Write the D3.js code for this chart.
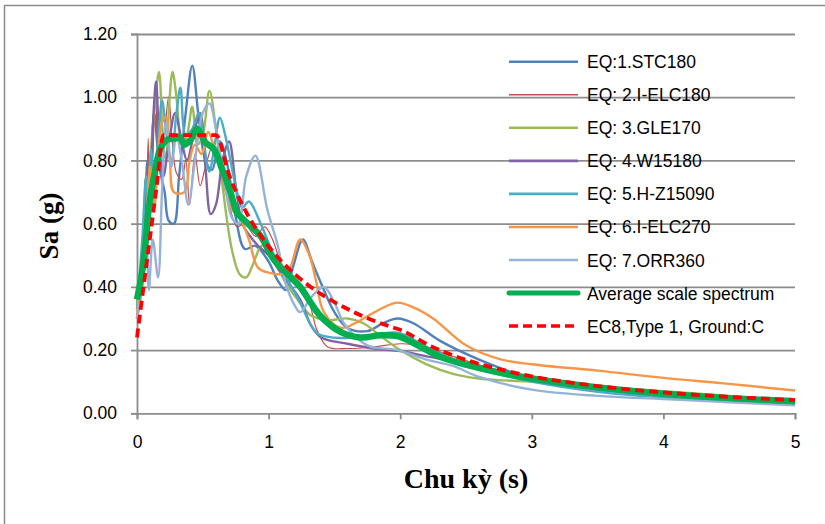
<!doctype html>
<html>
  <head>
    <meta charset="utf-8">
    <title>Phổ phản ứng gia tốc</title>
    <script src="https://cdn.jsdelivr.net/npm/d3@7"></script>
    <style>
      body { margin: 0; background: #fff; }
      text { font-family: 'Liberation Sans', Arial, sans-serif; }
    </style>
  </head>
  <body>
    <svg id="chart" width="825" height="524"></svg>

    <script>
      var xTicks = [0, 1, 2, 3, 4, 5]
      var yTicks = [0, 0.2, 0.4, 0.6, 0.8, 1.0, 1.2]

      var seriesNames = [
        'EQ:1.STC180',
        'EQ: 2.I-ELC180',
        'EQ: 3.GLE170',
        'EQ: 4.W15180',
        'EQ: 5.H-Z15090',
        'EQ: 6.I-ELC270',
        'EQ: 7.ORR360',
        'Average scale spectrum',
        'EC8,Type 1, Ground:C'
      ]

      // [period (s), Sa (g)]
      var eq1 = [[0,0.30],[0.03,0.40],[0.06,0.62],[0.08,0.80],[0.10,0.70],[0.13,0.95],[0.17,0.78],[0.21,0.70],[0.24,0.61],[0.28,0.60],[0.32,0.75],[0.37,0.95],[0.42,1.10],[0.47,0.93],[0.52,0.80],[0.57,0.77],[0.63,0.86],[0.69,0.78],[0.75,0.62],[0.82,0.52],[0.90,0.53],[1.0,0.48],[1.07,0.42],[1.13,0.39],[1.19,0.47],[1.26,0.55],[1.33,0.48],[1.40,0.41],[1.50,0.32],[1.60,0.27],[1.75,0.26],[1.87,0.285],[1.98,0.30],[2.1,0.285],[2.3,0.23],[2.6,0.17],[3.0,0.11],[3.5,0.075],[4.0,0.055],[4.5,0.04],[5.0,0.03]]
      var eq2 = [[0,0.30],[0.04,0.45],[0.06,0.74],[0.07,0.62],[0.085,0.87],[0.10,0.62],[0.12,0.80],[0.14,1.00],[0.17,0.80],[0.20,0.85],[0.24,1.0],[0.27,0.85],[0.30,0.76],[0.34,0.74],[0.37,0.80],[0.40,0.66],[0.44,0.82],[0.48,0.72],[0.52,0.78],[0.58,0.85],[0.64,0.75],[0.70,0.66],[0.76,0.59],[0.82,0.60],[0.90,0.56],[0.97,0.59],[1.03,0.55],[1.10,0.47],[1.20,0.42],[1.30,0.36],[1.37,0.26],[1.45,0.21],[1.6,0.205],[1.8,0.21],[2.0,0.22],[2.15,0.215],[2.4,0.18],[2.7,0.14],[3.0,0.105],[3.5,0.075],[4.0,0.058],[4.5,0.045],[5.0,0.035]]
      var eq3 = [[0,0.35],[0.04,0.45],[0.07,0.60],[0.10,0.80],[0.13,0.95],[0.167,1.08],[0.20,0.85],[0.22,0.80],[0.245,0.98],[0.27,1.08],[0.30,1.00],[0.34,0.85],[0.38,0.88],[0.42,0.97],[0.46,0.85],[0.50,0.88],[0.55,1.02],[0.60,0.90],[0.65,0.72],[0.72,0.52],[0.78,0.44],[0.83,0.43],[0.88,0.47],[0.95,0.53],[1.03,0.50],[1.12,0.42],[1.22,0.36],[1.32,0.31],[1.45,0.295],[1.6,0.30],[1.72,0.285],[1.85,0.245],[2.0,0.20],[2.2,0.155],[2.4,0.125],[2.6,0.11],[2.8,0.104],[3.0,0.10],[3.5,0.085],[4.0,0.07],[4.5,0.055],[5.0,0.04]]
      var eq4 = [[0,0.30],[0.03,0.40],[0.05,0.47],[0.07,0.53],[0.09,0.62],[0.11,0.80],[0.13,0.98],[0.145,1.05],[0.17,0.85],[0.20,0.75],[0.24,0.85],[0.29,0.95],[0.34,0.86],[0.38,0.80],[0.43,0.88],[0.48,0.95],[0.52,0.78],[0.56,0.63],[0.60,0.66],[0.65,0.80],[0.70,0.86],[0.75,0.72],[0.80,0.60],[0.86,0.56],[0.92,0.53],[1.0,0.50],[1.1,0.44],[1.24,0.36],[1.32,0.28],[1.40,0.24],[1.6,0.22],[1.8,0.205],[2.0,0.197],[2.2,0.18],[2.4,0.165],[2.6,0.15],[3.0,0.11],[3.5,0.08],[4.0,0.058],[4.5,0.042],[5.0,0.032]]
      var eq5 = [[0,0.33],[0.04,0.55],[0.07,0.75],[0.09,0.62],[0.106,0.835],[0.13,0.70],[0.16,0.85],[0.19,0.99],[0.22,0.90],[0.26,0.80],[0.30,0.95],[0.33,1.03],[0.37,0.88],[0.42,0.90],[0.47,0.95],[0.51,0.85],[0.55,0.765],[0.59,0.85],[0.63,0.935],[0.67,0.88],[0.71,0.80],[0.76,0.70],[0.80,0.65],[0.85,0.67],[0.94,0.60],[1.02,0.52],[1.12,0.44],[1.24,0.35],[1.32,0.28],[1.38,0.25],[1.55,0.238],[1.75,0.245],[1.98,0.255],[2.2,0.21],[2.4,0.17],[2.6,0.14],[3.0,0.10],[3.5,0.068],[4.0,0.05],[4.5,0.038],[5.0,0.028]]
      var eq6 = [[0,0.30],[0.04,0.50],[0.07,0.60],[0.10,0.78],[0.13,0.65],[0.16,0.80],[0.19,0.92],[0.22,0.935],[0.25,0.80],[0.28,0.70],[0.36,0.70],[0.40,0.80],[0.44,0.85],[0.49,0.82],[0.54,0.89],[0.58,0.85],[0.63,0.78],[0.68,0.70],[0.72,0.645],[0.78,0.62],[0.85,0.55],[0.92,0.46],[1.0,0.445],[1.08,0.44],[1.15,0.45],[1.24,0.55],[1.31,0.50],[1.36,0.42],[1.42,0.32],[1.55,0.27],[1.70,0.295],[1.85,0.33],[1.98,0.35],[2.1,0.335],[2.25,0.30],[2.5,0.215],[2.75,0.172],[3.0,0.155],[3.5,0.135],[4.0,0.112],[4.5,0.093],[5.0,0.072]]
      var eq7 = [[0,0.30],[0.04,0.40],[0.07,0.60],[0.09,0.39],[0.12,0.55],[0.16,0.43],[0.19,0.70],[0.22,0.92],[0.26,0.78],[0.30,0.88],[0.34,0.80],[0.39,0.66],[0.44,0.80],[0.50,0.95],[0.55,0.98],[0.60,0.90],[0.66,0.75],[0.72,0.62],[0.77,0.60],[0.83,0.75],[0.90,0.815],[0.99,0.645],[1.07,0.53],[1.13,0.41],[1.20,0.34],[1.24,0.32],[1.33,0.37],[1.42,0.40],[1.50,0.35],[1.58,0.28],[1.75,0.215],[1.98,0.20],[2.2,0.17],[2.4,0.15],[2.6,0.115],[3.0,0.075],[3.5,0.055],[4.0,0.045],[4.5,0.035],[5.0,0.025]]
      var average = [[0,0.36],[0.04,0.45],[0.07,0.56],[0.09,0.65],[0.13,0.75],[0.18,0.84],[0.235,0.867],[0.30,0.87],[0.33,0.873],[0.36,0.85],[0.41,0.867],[0.455,0.90],[0.52,0.857],[0.585,0.835],[0.64,0.78],[0.71,0.70],[0.76,0.635],[0.81,0.613],[0.94,0.56],[1.04,0.486],[1.17,0.43],[1.24,0.40],[1.32,0.35],[1.40,0.305],[1.55,0.257],[1.70,0.24],[1.85,0.247],[1.98,0.244],[2.13,0.216],[2.31,0.178],[2.61,0.142],[3.0,0.11],[3.5,0.082],[4.0,0.062],[4.5,0.048],[5.0,0.038]]
      var ec8 = [[0,0.24],[0.05,0.40],[0.1,0.56],[0.15,0.72],[0.2,0.88],[0.6,0.88],[0.7,0.754],[0.8,0.66],[0.9,0.587],[1.0,0.528],[1.1,0.48],[1.2,0.44],[1.3,0.406],[1.4,0.377],[1.5,0.352],[1.6,0.33],[1.7,0.31],[1.8,0.293],[1.9,0.278],[2.0,0.264],[2.25,0.209],[2.5,0.169],[2.75,0.14],[3.0,0.117],[3.5,0.086],[4.0,0.066],[4.5,0.052],[5.0,0.042]]

      var allSeries = [eq1, eq2, eq3, eq4, eq5, eq6, eq7, average, ec8]
      var colors = ['#4F81BD', '#C0504D', '#9BBB59', '#8064A2', '#4BACC6', '#F79646', '#95B3D7', '#00B050', '#FF0000']
      var widths = [2.4, 1.2, 2.4, 2.4, 2.4, 2.4, 2.4, 6.5, 3.8]

      var svg = d3.select('#chart')

      var x = d3.scaleLinear().domain([0, 5]).range([137, 795])
      var y = d3.scaleLinear().domain([0, 1.2]).range([413.3, 34])

      // outer chart border (right/bottom edges fall outside the frame)
      svg.append('rect')
        .attr('x', 4.5).attr('y', 5.5)
        .attr('width', 840).attr('height', 540)
        .attr('fill', 'none')
        .attr('stroke', '#8c8c8c')
        .attr('stroke-width', 1.5)

      // gridlines
      svg.append('g')
        .attr('transform', 'translate(137,0)')
        .call(d3.axisLeft(y).tickValues(yTicks.slice(1)).tickSize(-(795 - 137)).tickFormat(''))
        .call((g) => g.select('.domain').remove())
        .selectAll('line')
        .attr('stroke', '#8c8c8c')
        .attr('stroke-width', 1.8)

      var yAxis = svg.append('g')
        .attr('transform', 'translate(137,0)')
        .call(d3.axisLeft(y).tickValues(yTicks).tickSize(6).tickPadding(14).tickFormat(d3.format('.2f')))
      yAxis.select('.domain').attr('stroke', '#8c8c8c').attr('stroke-width', 1.8)
      yAxis.selectAll('line').attr('stroke', '#8c8c8c').attr('stroke-width', 1.8)
      yAxis.selectAll('text').attr('font-size', 17.5).attr('fill', '#000')
        .style('font-family', "'Liberation Sans', Arial, sans-serif")

      var xAxis = svg.append('g')
        .attr('transform', 'translate(0,413.3)')
        .call(d3.axisBottom(x).tickValues(xTicks).tickSize(6).tickPadding(16).tickFormat(d3.format('d')))
      xAxis.select('.domain').attr('stroke', '#8c8c8c').attr('stroke-width', 1.8)
      xAxis.selectAll('line').attr('stroke', '#8c8c8c').attr('stroke-width', 1.8)
      xAxis.selectAll('text').attr('font-size', 17.5).attr('fill', '#000')
        .style('font-family', "'Liberation Sans', Arial, sans-serif")

      var smooth = d3.line()
        .x((d) => x(d[0]))
        .y((d) => y(d[1]))
        .curve(d3.curveCatmullRom.alpha(0.5))

      var straight = d3.line()
        .x((d) => x(d[0]))
        .y((d) => y(d[1]))
        .curve(d3.curveMonotoneX)

      svg.append('g')
        .selectAll('path')
        .data(allSeries)
        .enter()
        .append('path')
        .attr('d', (d, i) => (i === 8 ? straight(d) : smooth(d)))
        .attr('fill', 'none')
        .attr('stroke', (d, i) => colors[i])
        .attr('stroke-width', (d, i) => widths[i])
        .attr('stroke-linejoin', 'round')
        .attr('stroke-dasharray', (d, i) => (i === 8 ? '9,5' : null))

      // legend
      var legend = svg.append('g')
        .selectAll('g')
        .data(seriesNames)
        .enter()
        .append('g')
        .attr('transform', (d, i) => 'translate(509,' + (61.7 + i * 33.05) + ')')

      legend.append('line')
        .attr('x1', 0).attr('x2', 69)
        .attr('stroke', (d, i) => colors[i])
        .attr('stroke-width', (d, i) => (i === 7 ? 5 : i === 8 ? 3.5 : widths[i] + 0.2))
        .attr('stroke-linecap', (d, i) => (i === 7 ? 'round' : 'butt'))
        .attr('stroke-dasharray', (d, i) => (i === 8 ? '9,5' : null))

      legend.append('text')
        .attr('x', 78)
        .attr('y', 6.5)
        .attr('font-size', 17.5)
        .attr('fill', '#000')
        .text((d) => d)

      svg.append('text')
        .attr('transform', 'translate(58,226) rotate(-90)')
        .attr('text-anchor', 'middle')
        .style('font-family', "'Liberation Serif', 'Times New Roman', serif")
        .attr('font-weight', 'bold')
        .attr('font-size', 27)
        .text('Sa (g)')

      svg.append('text')
        .attr('x', 466)
        .attr('y', 488)
        .attr('text-anchor', 'middle')
        .style('font-family', "'Liberation Serif', 'Times New Roman', serif")
        .attr('font-weight', 'bold')
        .attr('font-size', 28)
        .text('Chu kỳ (s)')
    </script>
  </body>
</html>
